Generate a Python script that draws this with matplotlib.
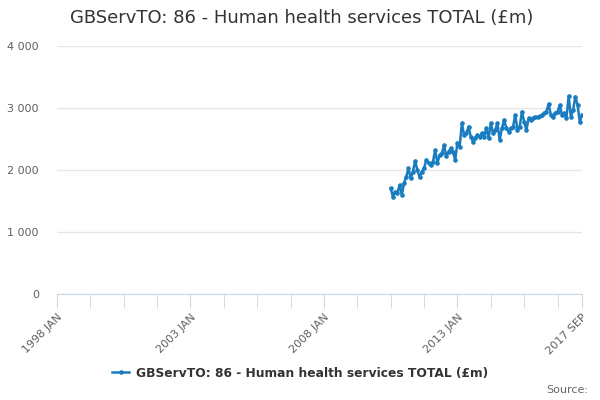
import matplotlib
matplotlib.use("Agg")
import matplotlib.pyplot as plt
import numpy as np

title = "GBServTO: 86 - Human health services TOTAL (£m)"
series_name = "GBServTO: 86 - Human health services TOTAL (£m)"
start_year, start_month = 1998, 1
end_year, end_month = 2017, 9
data_start = (2010, 7)
values = [1704, 1570, 1651, 1624, 1758, 1597, 1785, 1893, 2027, 1866,
          1973, 2145, 2000, 1882, 1973, 2027, 2161, 2118, 2081, 2134,
          2323, 2108, 2242, 2269, 2403, 2226, 2296, 2350, 2296, 2161,
          2441, 2376, 2753, 2565, 2592, 2699, 2538, 2457, 2511, 2565,
          2538, 2592, 2538, 2672, 2511, 2753, 2592, 2645, 2753, 2484,
          2672, 2807, 2672, 2618, 2672, 2699, 2887, 2645, 2699, 2941,
          2780, 2645, 2834, 2807, 2834, 2860, 2850, 2871, 2887, 2914,
          2941, 3065, 2887, 2860, 2914, 2941, 3049, 2887, 2914, 2834,
          3194, 2860, 2968, 3183, 3049, 2780, 2887]
tick_labels = ["1998 JAN", "2003 JAN", "2008 JAN", "2013 JAN", "2017 SEP"]
y_ticks = [0, 1000, 2000, 3000, 4000]

n_months = (end_year - start_year) * 12 + (end_month - start_month)
x0 = (data_start[0] - start_year) * 12 + (data_start[1] - start_month)
x = np.arange(x0, x0 + len(values))

fig = plt.figure(figsize=(6, 4), dpi=100)
ax = fig.add_axes([57/600, 1 - 294/400, 525/600, 248/400])
line_color = "#1a7cc0"
ax.plot(x, values, color=line_color, lw=1.8, marker="o", ms=2.3,
        label=series_name, solid_joinstyle="round")
ax.set_xlim(0, n_months)
ax.set_ylim(0, 4000)
ax.set_yticks(y_ticks)
ax.set_yticklabels([f"{v:,}".replace(",", " ") for v in y_ticks],
                   fontsize=8, color="#606060")
ax.grid(axis="y", color="#e6e6e6", lw=1)
ax.set_axisbelow(True)
for s in ["top", "right", "left"]:
    ax.spines[s].set_visible(False)
ax.spines["bottom"].set_color("#ccd6eb")
ax.tick_params(axis="y", length=0, pad=13)

major = [0, 60, 120, 180, n_months]
ax.set_xticks(major)
ax.set_xticklabels(tick_labels, rotation=45, ha="right", rotation_mode="anchor",
                   fontsize=8, color="#606060")
ax.set_xticks(list(range(0, n_months + 1, 15)), minor=True)
ax.tick_params(axis="x", which="both", length=10, color="#ccd6eb", pad=3)

fig.text(70/600, 1 - 18/400, title, fontsize=13, color="#333333",
         va="center", ha="left")
leg = fig.legend(loc="center", bbox_to_anchor=(0.5, 1 - 373/400), frameon=False,
                 prop={"size": 8.8, "weight": "bold"}, handlelength=1.4,
                 handletextpad=0.5)
for t in leg.get_texts():
    t.set_color("#333333")
fig.text(588/600, 1 - 390/400, "Source:", fontsize=8, color="#666666",
         ha="right", va="center")
fig.savefig("out.png", dpi=100)
